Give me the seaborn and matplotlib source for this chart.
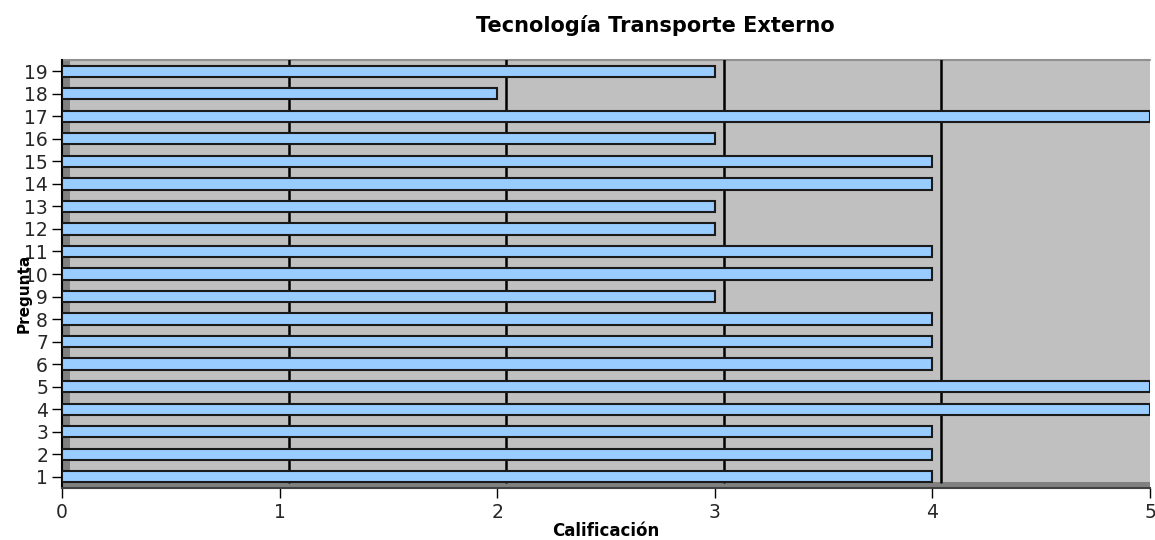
import matplotlib
matplotlib.use("Agg")
import matplotlib.pyplot as plt
import matplotlib.transforms as mtransforms
from matplotlib.patches import Rectangle
import seaborn as sns
import pandas as pd

preguntas = [str(i) for i in range(1, 20)]
calificacion = [4, 4, 4, 5, 5, 4, 4, 4, 3, 4, 4, 3, 3, 4, 4, 3, 5, 2, 3]
x_ticks = [0, 1, 2, 3, 4, 5]

df = pd.DataFrame({"Pregunta": preguntas, "Calificación": calificacion})

sns.set_theme(style="white")
plt.rcParams['font.family'] = ['DejaVu Sans']

fig = plt.figure(figsize=(11.55, 5.4), dpi=100)
ax = fig.add_axes([62/1155, 1-488/540, 1088/1155, 428/540])
ax.set_facecolor("#C0C0C0")

order = preguntas[::-1]
sns.barplot(data=df, x="Calificación", y="Pregunta", order=order, orient="h",
            color="#99CCFF", saturation=1, width=0.5, edgecolor="#1a1a1a",
            linewidth=1.5, ax=ax)
for cont in ax.containers:
    for bar in cont:
        bar.set_zorder(3)

# left wall and floor (3D look)
ax.add_patch(Rectangle((0, 0), 8/1088, 1, transform=ax.transAxes,
                       facecolor="#808080", edgecolor="none", zorder=0.5))
ax.add_patch(Rectangle((0, 0), 1, 6/428, transform=ax.transAxes,
                       facecolor="#808080", edgecolor="none", zorder=0.5))
ax.plot([0, 1], [1, 1], transform=ax.transAxes, color="#909090", lw=1.5,
        zorder=1, clip_on=False)

# gridlines, shifted by the 3D depth
off = mtransforms.offset_copy(ax.transData, fig=fig, x=9, y=0, units='dots')
for xv in x_ticks[1:-1]:
    ax.plot([xv, xv], [18.5 - 0.25, -0.5], color="black", lw=1.8,
            transform=off, zorder=1)

ax.set_xlim(0, 5)
ax.set_ylim(18.5, -0.5)
ax.set_xticks(x_ticks)
ax.set_xticklabels([str(v) for v in x_ticks], fontsize=13.5)
ax.tick_params(axis='y', labelsize=13.5, length=7, width=1, color="black",
               left=True, pad=3)
ax.tick_params(axis='x', length=7, width=1, color="black", bottom=True, pad=4)

for s in ["top", "right"]:
    ax.spines[s].set_visible(False)
ax.spines["left"].set_color("black")
ax.spines["left"].set_linewidth(1.5)
ax.spines["bottom"].set_color("#404040")
ax.spines["bottom"].set_linewidth(1.5)

ax.set_xlabel("Calificación", fontsize=12, fontweight="bold", labelpad=0,
              color="black")
ax.set_ylabel("Pregunta", fontsize=11, fontweight="bold", color="black")
ax.yaxis.set_label_coords(-30/1088, 0.455)
ax.set_title("Tecnología Transporte Externo", fontsize=15, fontweight="bold",
             pad=20, x=0.545, color="black")

fig.savefig("out.png", dpi=100)
